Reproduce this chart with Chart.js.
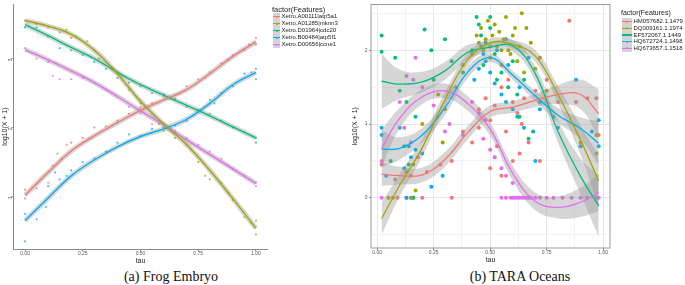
<!DOCTYPE html>
<html>
<head>
<meta charset="utf-8">
<script src="https://cdn.jsdelivr.net/npm/chart.js@4.4.0/dist/chart.umd.min.js"></script>
<style>
body { margin:0; background:#fff; width:685px; height:285px; position:relative; overflow:hidden; font-family:"Liberation Sans", Arial, sans-serif; }
.box { position:absolute; top:0; }
.caption { position:absolute; top:268px; font-family:"Liberation Serif", serif; font-size:14px; line-height:18px; white-space:nowrap; transform:translateX(-50%); color:#111; }
</style>
</head>
<body>
<div class="box" style="left:0"><canvas id="frogChart" width="340" height="268"></canvas></div>
<div class="box" style="left:340px"><canvas id="taraChart" width="345" height="268"></canvas></div>
<div id="frogLegend"></div>
<div id="taraLegend"></div>
<div class="caption" style="left:171px">(a) Frog Embryo</div>
<div class="caption" style="left:520px">(b) TARA Oceans</div>
<script>
// colores ggplot (5 niveles)
const COLORS = ['#F8766D', '#A3A500', '#00BF7D', '#00B0F6', '#E76BF3'];

// ---- (a) Frog Embryo ----
const frogLabels = ['Xetro.A00111|atp5a1', 'Xetro.A01285|mknn3', 'Xetro.D01964|cdc20', 'Xetro.B00484|atp5f1', 'Xetro.D00656|ccne1'];
const frogTau = [0, 0.1, 0.2, 0.3, 0.4, 0.5, 0.6, 0.7, 0.8, 0.9, 1.0];
const frogAtp5a1 = [1.02, 1.35, 1.66, 1.88, 2.07, 2.25, 2.4, 2.55, 2.78, 3.03, 3.24];
const frogMknn3 = [3.55, 3.47, 3.35, 3.12, 2.78, 2.38, 2.05, 1.75, 1.38, 0.97, 0.54];
const frogCdc20 = [3.49, 3.33, 3.16, 3.0, 2.8, 2.62, 2.47, 2.32, 2.17, 2.01, 1.85];
const frogAtp5f1 = [0.65, 0.98, 1.3, 1.53, 1.72, 1.87, 1.98, 2.12, 2.35, 2.62, 2.8];
const frogCcne1 = [3.13, 2.98, 2.82, 2.65, 2.45, 2.24, 2.04, 1.82, 1.61, 1.4, 1.19];

const frogAtp5a1Pts = [[0,0.97],[0,1.1],[0.05,1.12],[0.1,1.2],[0.12,1.45],[0.14,1.62],[0.16,1.55],[0.18,1.75],[0.2,1.78],[0.25,1.85],[0.3,2.0],[0.35,2.02],[0.4,2.1],[0.45,2.2],[0.5,2.3],[0.55,2.35],[0.6,2.45],[0.65,2.42],[0.7,2.6],[0.75,2.7],[0.78,2.72],[0.8,2.8],[0.85,2.93],[0.88,2.98],[0.9,3.05],[0.95,3.12],[0.97,3.2],[1,3.3],[1,3.2]];
const frogMknn3Pts = [[0,3.55],[0.05,3.5],[0.1,3.45],[0.15,3.38],[0.18,3.42],[0.2,3.3],[0.22,3.32],[0.27,3.25],[0.3,3.12],[0.32,3.0],[0.35,2.95],[0.38,2.86],[0.4,2.8],[0.45,2.55],[0.5,2.35],[0.55,2.2],[0.58,2.05],[0.6,1.95],[0.65,1.85],[0.7,1.75],[0.72,1.68],[0.75,1.5],[0.78,1.3],[0.8,1.25],[0.85,1.2],[0.88,1.05],[0.9,0.95],[0.95,0.7],[0.98,0.62],[1,0.45],[1,0.65]];
const frogCdc20Pts = [[0,3.45],[0.05,3.45],[0.1,3.32],[0.15,3.15],[0.2,3.12],[0.25,3.05],[0.3,2.95],[0.35,2.85],[0.4,2.72],[0.45,2.65],[0.5,2.6],[0.55,2.5],[0.6,2.48],[0.65,2.4],[0.7,2.3],[0.75,2.25],[0.8,2.2],[0.85,2.1],[0.9,2.0],[0.95,1.93],[1,1.85],[1,1.78]];
const frogAtp5f1Pts = [[0,0.35],[0,0.75],[0.05,0.67],[0.09,0.85],[0.1,1.15],[0.13,1.35],[0.15,1.25],[0.18,1.3],[0.2,1.38],[0.25,1.5],[0.3,1.55],[0.35,1.65],[0.4,1.78],[0.45,1.9],[0.5,1.88],[0.55,1.98],[0.6,2.0],[0.65,2.03],[0.7,2.1],[0.75,2.25],[0.8,2.4],[0.82,2.35],[0.85,2.5],[0.9,2.6],[0.95,2.78],[0.98,2.8],[1,2.85],[1,2.7]];
const frogCcne1Pts = [[0,3.15],[0.05,3.0],[0.1,2.95],[0.12,2.75],[0.15,2.7],[0.2,2.7],[0.25,2.72],[0.3,2.65],[0.35,2.55],[0.4,2.45],[0.45,2.3],[0.5,2.2],[0.55,2.05],[0.6,2.05],[0.65,1.95],[0.7,1.85],[0.75,1.75],[0.8,1.65],[0.85,1.55],[0.9,1.4],[0.95,1.3],[1,1.2],[1,1.15]];

// ---- (b) TARA Oceans ----
const taraLabels = ['HM057682.1.1479', 'DQ009161.1.1974', 'EF572067.1.1449', 'HQ672724.1.1498', 'HQ673657.1.1518'];
const taraTau = [0.02, 0.1, 0.2, 0.3, 0.4, 0.5, 0.6, 0.7, 0.8, 0.9, 0.98];
const taraHM057682 = [0.32, 0.30, 0.31, 0.52, 0.88, 1.17, 1.23, 1.32, 1.40, 1.40, 1.14];
const taraDQ009161 = [-0.28, 0.17, 0.68, 1.33, 1.87, 2.1, 2.08, 1.92, 1.4, 0.78, 0.23];
const taraEF572067 = [1.58, 1.54, 1.57, 1.72, 1.97, 2.04, 2.06, 1.68, 0.9, 0.29, -0.11];
const taraHQ672724 = [0.66, 0.67, 0.85, 1.22, 1.7, 1.9, 1.66, 1.38, 1.12, 0.94, 0.74];
const taraHQ673657 = [0.67, 1.08, 1.37, 1.45, 1.28, 0.93, 0.33, -0.05, -0.13, -0.06, 0.07];
// error estandar de cada suavizado
const taraHM057682Se = [0.16, 0.12, 0.1, 0.1, 0.09, 0.08, 0.08, 0.09, 0.13, 0.2, 0.33];
const taraDQ009161Se = [0.22, 0.15, 0.12, 0.1, 0.08, 0.06, 0.06, 0.08, 0.12, 0.2, 0.35];
const taraEF572067Se = [0.37, 0.2, 0.14, 0.12, 0.1, 0.07, 0.08, 0.1, 0.15, 0.24, 0.42];
const taraHQ672724Se = [0.25, 0.15, 0.1, 0.1, 0.08, 0.06, 0.06, 0.07, 0.1, 0.15, 0.3];
const taraHQ673657Se = [0.25, 0.14, 0.1, 0.1, 0.1, 0.09, 0.1, 0.12, 0.15, 0.2, 0.25];

const taraHM057682Pts = [[0.02,0.45],[0.08,0.25],[0.15,0.3],[0.18,0.55],[0.22,0.35],[0.28,0.45],[0.33,0.5],[0.38,0.9],[0.42,0.75],[0.45,1.2],[0.48,1.35],[0.5,1.05],[0.52,1.25],[0.55,1.5],[0.57,0.9],[0.6,1.3],[0.62,1.15],[0.63,0.6],[0.65,1.35],[0.67,0.75],[0.7,1.45],[0.72,0.5],[0.75,1.6],[0.8,1.3],[0.85,2.4],[0.88,1.3],[0.93,1.35],[0.97,1.35],[0.98,0.85],[0.5,0.4],[0.55,0.3],[0.6,0.5],[0.45,0.95],[0.58,1.6],[0.2,0],[0.33,0],[0.09,0],[0.53,0.7],[0.64,1.0]];
const taraDQ009161Pts = [[0.05,0],[0.07,0],[0.15,0],[0.17,0.1],[0.13,0.35],[0.16,0.45],[0.2,1.0],[0.27,1.4],[0.29,0.75],[0.3,1.2],[0.35,1.5],[0.38,1.8],[0.42,1.95],[0.44,2.2],[0.46,2.3],[0.47,2.0],[0.48,2.15],[0.49,2.4],[0.5,1.9],[0.51,2.2],[0.52,2.35],[0.53,2.05],[0.54,2.25],[0.55,1.8],[0.56,2.15],[0.57,2.45],[0.58,2.0],[0.6,2.2],[0.62,1.85],[0.63,2.05],[0.64,2.5],[0.65,1.7],[0.66,2.3],[0.68,2.1],[0.7,1.75],[0.72,1.9],[0.75,1.45],[0.9,0.75],[0.97,0.85],[0.97,0.6],[0.55,2.0],[0.5,2.05],[0.59,1.95],[0.45,2.1],[0.61,2.3]];
const taraEF572067Pts = [[0.02,2.2],[0.02,1.98],[0.08,1.9],[0.1,1.45],[0.13,1.3],[0.17,1.1],[0.21,2.28],[0.24,2.0],[0.25,1.6],[0.3,2.15],[0.33,1.85],[0.38,1.7],[0.42,2.0],[0.44,2.45],[0.45,2.35],[0.46,2.2],[0.47,1.8],[0.48,2.1],[0.5,2.3],[0.52,1.95],[0.53,1.6],[0.55,1.7],[0.57,2.15],[0.58,1.5],[0.6,1.85],[0.62,1.4],[0.63,1.1],[0.65,1.6],[0.67,0.8],[0.69,0.9],[0.72,1.3],[0.14,0.45],[0.12,0.7],[0.16,0],[0.06,0.5],[0.5,2.45]];
const taraHQ672724Pts = [[0.02,0.95],[0.02,0.85],[0.04,0.3],[0.1,0.95],[0.12,0.4],[0.14,0.7],[0.15,0.55],[0.17,0.65],[0.2,0.6],[0.24,0.15],[0.29,0.3],[0.13,0],[0.16,0],[0.43,1.6],[0.45,1.75],[0.46,2.05],[0.47,1.95],[0.48,1.85],[0.5,1.7],[0.52,1.55],[0.53,2.0],[0.55,1.4],[0.57,1.3],[0.58,1.8],[0.6,1.2],[0.62,1.1],[0.63,1.5],[0.65,0.95],[0.67,1.9],[0.7,0.5],[0.72,1.2],[0.78,1.1],[0.88,1.6],[0.9,0.7],[0.95,0.9],[0.98,1.05],[0.98,0.7],[0.8,0.95]];
const taraHQ673657Pts = [[0.02,0.5],[0.02,0],[0.1,1.3],[0.12,0.95],[0.15,0.75],[0.16,1.6],[0.17,1.9],[0.13,1.65],[0.2,1.5],[0.25,1.25],[0.3,0.9],[0.32,1.0],[0.38,0.85],[0.42,1.3],[0.45,1.15],[0.47,0.8],[0.48,1.05],[0.5,0.65],[0.52,0.55],[0.55,0.4],[0.57,0.3],[0.6,0.2],[0.55,0],[0.57,0],[0.59,0],[0.6,0],[0.61,0],[0.62,0],[0.63,0],[0.64,0],[0.65,0],[0.66,0],[0.67,0],[0.68,0],[0.7,0],[0.72,0],[0.75,0],[0.78,0],[0.82,0],[0.86,0],[0.9,0],[0.93,0],[0.97,0],[0.98,0],[0.13,0],[0.15,0]];

const toXY = (xs, ys) => xs.map((x, i) => ({ x: x, y: ys[i] }));
const ptsXY = (p) => p.map(([x, y]) => ({ x: x, y: y }));

function hexA(hex, a) {
    const n = parseInt(hex.slice(1), 16);
    return `rgba(${n >> 16}, ${(n >> 8) & 255}, ${n & 255}, ${a})`;
}

// Gráfico (a)
const frogCurves = [frogAtp5a1, frogMknn3, frogCdc20, frogAtp5f1, frogCcne1];
const frogPoints = [frogAtp5a1Pts, frogMknn3Pts, frogCdc20Pts, frogAtp5f1Pts, frogCcne1Pts];
const frogSets = [];
frogCurves.forEach((c, i) => {
    frogSets.push({ data: toXY(frogTau, c), showLine: true, borderColor: COLORS[i], borderWidth: 1.4, pointRadius: 0, tension: 0.4, order: 1 });
    frogSets.push({ data: toXY(frogTau, c), showLine: true, borderColor: 'rgba(150,150,150,0.4)', borderWidth: 5, pointRadius: 0, tension: 0.4, order: 2 });
    frogSets.push({ data: ptsXY(frogPoints[i]), backgroundColor: hexA(COLORS[i], 0.75), borderWidth: 0, pointRadius: 1.1, order: 3 });
});

const tickFont = { family: 'Liberation Sans', size: 5 };
const titleFont = { family: 'Liberation Sans', size: 7 };

new Chart(document.getElementById('frogChart').getContext('2d'), {
    type: 'scatter',
    data: { datasets: frogSets },
    options: {
        responsive: false, animation: false, events: [],
        layout: { padding: { left: 0, right: 72.5, top: 2, bottom: 0 } },
        plugins: { legend: { display: false }, tooltip: { enabled: false } },
        scales: {
            x: {
                type: 'linear', min: -0.05, max: 1.05,
                afterFit: (s) => { s.height = 19; },
                border: { display: true, color: '#8a8a8a', width: 1 },
                grid: { drawOnChartArea: false, drawTicks: true, tickLength: 2, tickColor: '#8a8a8a' },
                ticks: { stepSize: 0.25, includeBounds: false, font: tickFont, color: '#555', padding: 0, maxRotation: 0, callback: (v) => v.toFixed(2) },
                title: { display: true, text: 'tau', font: titleFont, color: '#222', padding: { top: 0, bottom: 3 } }
            },
            y: {
                type: 'linear', min: 0.24, max: 3.79,
                afterFit: (s) => { s.width = 13.5; },
                border: { display: true, color: '#8a8a8a', width: 1 },
                grid: { drawOnChartArea: false, drawTicks: true, tickLength: 2, tickColor: '#8a8a8a' },
                ticks: { stepSize: 1, includeBounds: false, font: tickFont, color: '#555', padding: 1, minRotation: 90, maxRotation: 90, callback: (v) => String(v) },
                title: { display: true, text: 'log10(X + 1)', font: titleFont, color: '#222', padding: { top: 0.5, bottom: 0 } }
            }
        }
    }
});

// Gráfico (b)
const taraCurves = [taraHM057682, taraDQ009161, taraEF572067, taraHQ672724, taraHQ673657];
const taraSe = [taraHM057682Se, taraDQ009161Se, taraEF572067Se, taraHQ672724Se, taraHQ673657Se];
const taraPoints = [taraHM057682Pts, taraDQ009161Pts, taraEF572067Pts, taraHQ672724Pts, taraHQ673657Pts];
const taraSets = [];
taraCurves.forEach((c, i) => {
    taraSets.push({ data: toXY(taraTau, c), showLine: true, borderColor: COLORS[i], borderWidth: 1.3, pointRadius: 0, tension: 0.4, order: 1 });
    taraSets.push({ data: toXY(taraTau, c.map((v, j) => v + taraSe[i][j])), showLine: true, borderWidth: 0, pointRadius: 0, tension: 0.4, fill: '+1', backgroundColor: 'rgba(153,153,153,0.4)', order: 2 });
    taraSets.push({ data: toXY(taraTau, c.map((v, j) => v - taraSe[i][j])), showLine: true, borderWidth: 0, pointRadius: 0, tension: 0.4, fill: false, order: 2 });
    taraSets.push({ data: ptsXY(taraPoints[i]), backgroundColor: COLORS[i], borderWidth: 0, pointRadius: 2, order: 3 });
});

const panelBorder = {
    id: 'panelBorder',
    afterDraw(chart) {
        const { ctx, chartArea: a } = chart;
        ctx.save();
        ctx.strokeStyle = '#9a9a9a';
        ctx.lineWidth = 1;
        ctx.strokeRect(a.left, a.top, a.right - a.left, a.bottom - a.top);
        ctx.restore();
    }
};

const isMajorX = (v) => Math.abs(v / 0.25 - Math.round(v / 0.25)) < 1e-6;
const isMajorY = (v) => Math.abs(v - Math.round(v)) < 1e-6;

new Chart(document.getElementById('taraChart').getContext('2d'), {
    type: 'scatter',
    data: { datasets: taraSets },
    options: {
        responsive: false, animation: false, events: [],
        layout: { padding: { left: 0, right: 75, top: 2, bottom: 0 } },
        plugins: { legend: { display: false }, tooltip: { enabled: false } },
        scales: {
            x: {
                type: 'linear', min: -0.027, max: 1.03,
                afterFit: (s) => { s.height = 20; },
                border: { display: false },
                grid: {
                    drawTicks: true, tickLength: 2,
                    color: (ctx) => isMajorX(ctx.tick.value) ? '#e6e6e6' : '#f3f3f3',
                    tickColor: (ctx) => isMajorX(ctx.tick.value) ? '#8a8a8a' : 'rgba(0,0,0,0)'
                },
                ticks: { stepSize: 0.125, includeBounds: false, font: tickFont, color: '#555', padding: 0, maxRotation: 0, autoSkip: false, callback: (v) => isMajorX(v) ? v.toFixed(2) : '' },
                title: { display: true, text: 'tau', font: titleFont, color: '#222', padding: { top: 0, bottom: 3.5 } }
            },
            y: {
                type: 'linear', min: -0.68, max: 2.62,
                afterFit: (s) => { s.width = 31; },
                border: { display: false },
                grid: {
                    drawTicks: true, tickLength: 2,
                    color: (ctx) => isMajorY(ctx.tick.value) ? '#e6e6e6' : '#f3f3f3',
                    tickColor: (ctx) => isMajorY(ctx.tick.value) ? '#8a8a8a' : 'rgba(0,0,0,0)'
                },
                ticks: { stepSize: 0.5, includeBounds: false, font: tickFont, color: '#555', padding: 1.5, autoSkip: false, callback: (v) => isMajorY(v) ? String(Math.round(v)) : '' },
                title: { display: true, text: 'log10(X + 1)', font: titleFont, color: '#222', padding: { top: 11, bottom: 0 } }
            }
        }
    },
    plugins: [panelBorder]
});

// Leyendas
function buildLegend(id, labels, cfg) {
    const box = document.getElementById(id);
    let html = `<div style="position:absolute;left:${cfg.x}px;top:${cfg.titleY - 6}px;font-size:${cfg.titleSize}px;line-height:12px;white-space:nowrap;color:#222">factor(Features)</div>`;
    labels.forEach((lab, i) => {
        const y = cfg.rowY + i * cfg.rowH;
        html += `<div style="position:absolute;left:${cfg.keyX}px;top:${y}px;width:${cfg.keyW}px;height:${cfg.rowH}px;background:#d4d4d4">` +
            `<div style="position:absolute;left:0;right:0;top:${cfg.rowH / 2 - 0.6}px;height:1.2px;background:${COLORS[i]}"></div>` +
            `<div style="position:absolute;left:${cfg.keyW / 2 - 1}px;top:${cfg.rowH / 2 - 1}px;width:2px;height:2px;border-radius:1px;background:${COLORS[i]}"></div></div>`;
        html += `<div style="position:absolute;left:${cfg.keyX + cfg.keyW + 1.5}px;top:${y}px;line-height:${cfg.rowH}px;font-size:${cfg.fontSize}px;white-space:nowrap;color:#222">${lab}</div>`;
    });
    box.innerHTML = html;
}

buildLegend('frogLegend', frogLabels, { x: 272, titleY: 10, titleSize: 7.5, keyX: 273, keyW: 7, rowY: 13.3, rowH: 7, fontSize: 6 });
buildLegend('taraLegend', taraLabels, { x: 621, titleY: 13, titleSize: 7, keyX: 622, keyW: 10, rowY: 18.3, rowH: 6.7, fontSize: 6 });
</script>
</body>
</html>
